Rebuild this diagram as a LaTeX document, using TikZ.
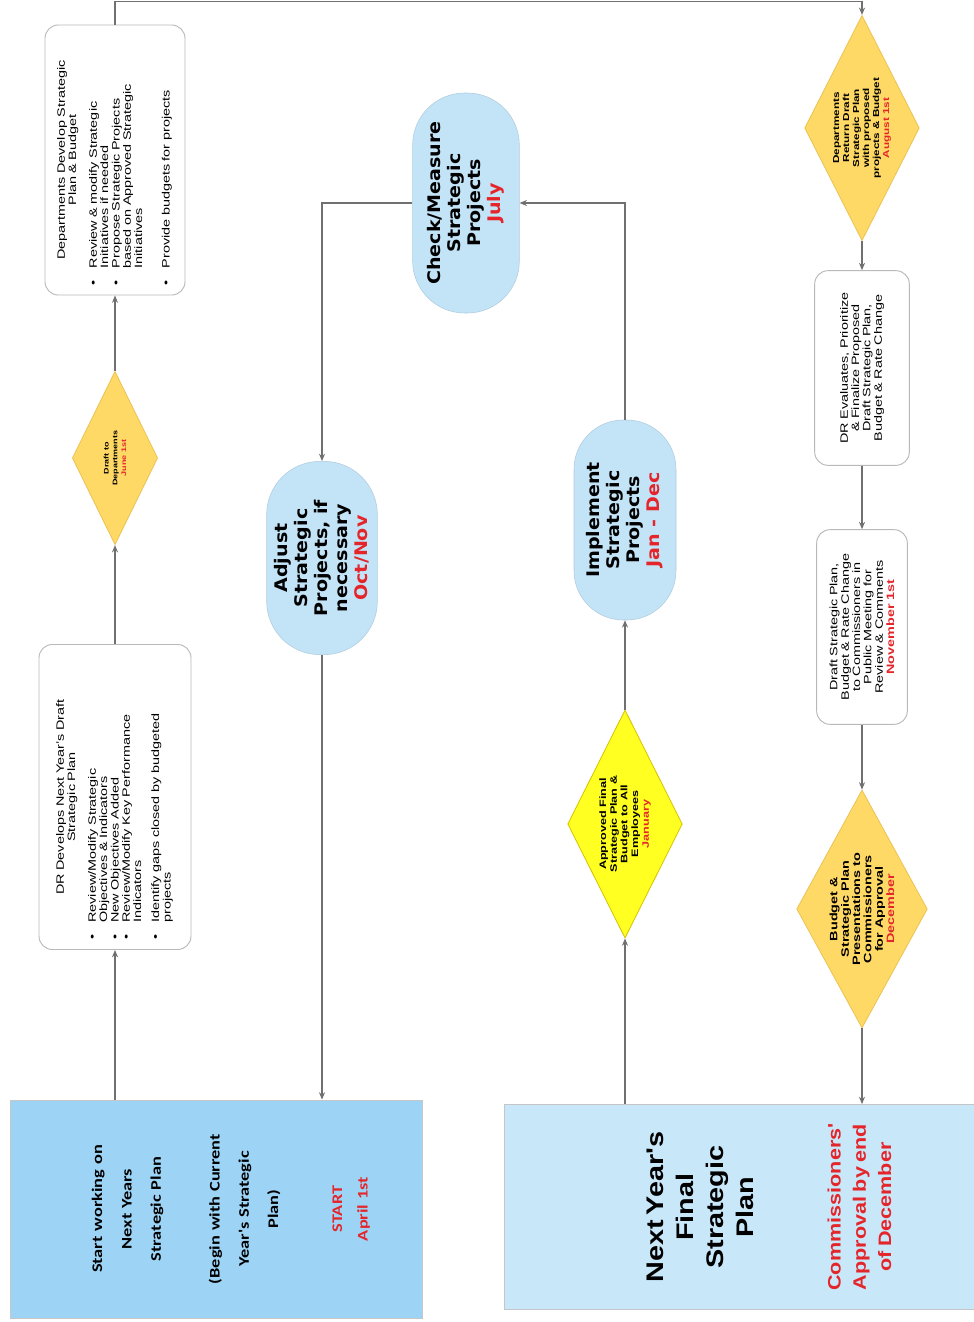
\documentclass[tikz,border=0pt]{standalone}
\usepackage{fontspec}
\setmainfont{Liberation Sans}[FakeStretch=1.35]
\newfontfamily\bigfont{Liberation Sans}[FakeStretch=1.2]
\newfontfamily\pillfont{DejaVu Sans}[FakeStretch=1.1]
\newfontfamily\calfont{Carlito}[FakeStretch=1.25]
\usetikzlibrary{arrows.meta,shapes.geometric,calc}
\definecolor{startblue}{HTML}{9DD4F6}
\definecolor{finalblue}{HTML}{C8E7F9}
\definecolor{pillblue}{HTML}{C3E3F7}
\definecolor{goldfill}{HTML}{FFD966}
\definecolor{golddraw}{HTML}{EBC253}
\definecolor{yelfill}{HTML}{FFFF22}
\definecolor{yeldraw}{HTML}{D6C200}
\definecolor{linegray}{HTML}{707070}
\definecolor{datered}{HTML}{E4262B}

\begin{document}
\begin{tikzpicture}[x=0.75pt,y=-0.75pt,
  every node/.style={rotate=90},
  flow/.style={draw=linegray,line width=1pt,-{Stealth[length=5.5pt,width=4.5pt]}},
  bluebox/.style={rectangle,draw=gray!45,line width=0.6pt,align=center,inner sep=0pt},
  docbox/.style={rectangle,rounded corners=10pt,draw=gray!55,fill=white,line width=0.7pt,inner sep=4pt,font=\fontsize{8}{8.5}\selectfont},
  pill/.style={rectangle,fill=pillblue,draw=pillblue!90!black,line width=0.4pt,align=center,inner sep=0pt,font=\pillfont\bfseries\fontsize{13}{15}\selectfont},
  gold/.style={diamond,aspect=2,fill=goldfill,draw=golddraw,line width=0.6pt,align=center,inner sep=-6pt,font=\bfseries\fontsize{6.5}{7.5}\selectfont}]
\useasboundingbox (0,0) rectangle (974,1322);
\fill[white] (0,0) rectangle (974,1322);

\node[bluebox,fill=startblue,minimum width=163.5pt,minimum height=309pt,text width=160pt,
  font=\calfont\bfseries\fontsize{11}{22}\selectfont] (start) at (216,1209)
  {\rule{0pt}{30pt}Start working on\\Next Years\\Strategic Plan\\[22pt](Begin with Current\\Year's Strategic\\Plan)\\[26pt]\textcolor{datered}{START}\\[-3pt]\textcolor{datered}{April 1st}};
\node[bluebox,fill=finalblue,minimum width=153.75pt,minimum height=363.75pt,text width=150pt] (final) at (747,1207)
  {{\bigfont\bfseries\fontsize{18}{22.5}\selectfont\rule{0pt}{46pt}Next Year's\\Final\\Strategic\\Plan\par}\vspace{46pt}%
   {\bigfont\bfseries\fontsize{13.5}{19}\selectfont\color{datered}Commissioners'\\Approval by end\\of December\par}};

\node[docbox,minimum width=228.75pt,minimum height=114pt,text width=218pt] (dr) at (115,797)
  {{\centering DR Develops Next Year's Draft\\Strategic Plan\par}\vspace{7pt}\noindent
   \begin{tabular}{@{\hspace{2pt}}c@{\hspace{9pt}}l@{}}
   \textbullet & Review/Modify Strategic\\ & Objectives \& Indicators\\
   \textbullet & New Objectives Added\\
   \textbullet & Review/Modify Key Performance\\ & Indicators\\[5pt]
   \textbullet & Identify gaps closed by budgeted\\ & projects
   \end{tabular}};
\node[gold,minimum width=130pt,minimum height=64pt,font=\bfseries\fontsize{5}{6.5}\selectfont] (todept) at (115,458)
  {Draft to\\Departments\\\textcolor{datered}{June 1st}};
\node[docbox,minimum width=202.5pt,minimum height=105pt,text width=192pt] (dept) at (115,160)
  {{\centering Departments Develop Strategic\\Plan \& Budget\par}\vspace{7pt}\noindent
   \begin{tabular}{@{\hspace{2pt}}c@{\hspace{9pt}}l@{}}
   \textbullet & Review \& modify Strategic\\ & Initiatives if needed\\
   \textbullet & Propose Strategic Projects\\ & based on Approved Strategic\\ & Initiatives\\[12pt]
   \textbullet & Provide budgets for projects
   \end{tabular}};

\node[gold,minimum width=169pt,minimum height=86pt] (ret) at (862,128)
  {Departments\\Return Draft\\Strategic Plan\\with proposed\\projects \& Budget\\\textcolor{datered}{August 1st}};
\node[docbox,align=center,minimum width=145pt,minimum height=71pt,text width=138pt] (eval) at (862,368)
  {DR Evaluates, Prioritize\\\& Finalize Proposed\\Draft Strategic Plan,\\Budget \& Rate Change};
\node[docbox,align=center,minimum width=146pt,minimum height=68pt,text width=138pt] (pub) at (862,627)
  {Draft Strategic Plan,\\Budget \& Rate Change\\to Commissioners in\\Public Meeting for\\Review \& Comments\\\textcolor{datered}{\bfseries November 1st}};
\node[gold,minimum width=178.5pt,minimum height=98pt,font=\bfseries\fontsize{8}{8.5}\selectfont] (pres) at (862,909)
  {Budget \&\\Strategic Plan\\Presentations to\\Commissioners\\for Approval\\\textcolor{datered}{December}};

\node[gold,fill=yelfill,draw=yeldraw,minimum width=171pt,minimum height=86pt,font=\bfseries\fontsize{7}{8}\selectfont] (appr) at (625,824)
  {Approved Final\\Strategic Plan \&\\Budget to All\\Employees\\\textcolor{datered}{January}};
\node[pill,minimum width=150pt,minimum height=76.5pt,rounded corners=37pt] (impl) at (625,520)
  {Implement\\Strategic\\Projects\\\textcolor{datered}{Jan - Dec}};
\node[pill,minimum width=165pt,minimum height=80pt,rounded corners=39pt] (check) at (466,203)
  {Check/Measure\\Strategic\\Projects\\\textcolor{datered}{July}};
\node[pill,minimum width=145pt,minimum height=83pt,rounded corners=40pt] (adjust) at (322,558)
  {Adjust\\Strategic\\Projects, if\\necessary\\\textcolor{datered}{Oct/Nov}};

\draw[flow] (start.east -| dr.west) -- (dr.west);
\draw[flow] (dr.east) -- (todept.west);
\draw[flow] (todept.east) -- (dept.west);
\draw[flow] (dept.east) -- ++(0,-23) -| (ret.east);
\draw[flow] (ret.west) -- (eval.east);
\draw[flow] (eval.west) -- (pub.east);
\draw[flow] (pub.west) -- (pres.east);
\draw[flow] (pres.west) -- (pres.west |- final.east);
\draw[flow] (final.east -| appr.west) -- (appr.west);
\draw[flow] (appr.east) -- (impl.west);
\draw[flow] (impl.east) |- (check.south);
\draw[flow] (check.north) -| (adjust.east);
\draw[flow] (adjust.west) -- (adjust.west |- start.east);
\end{tikzpicture}
\end{document}
